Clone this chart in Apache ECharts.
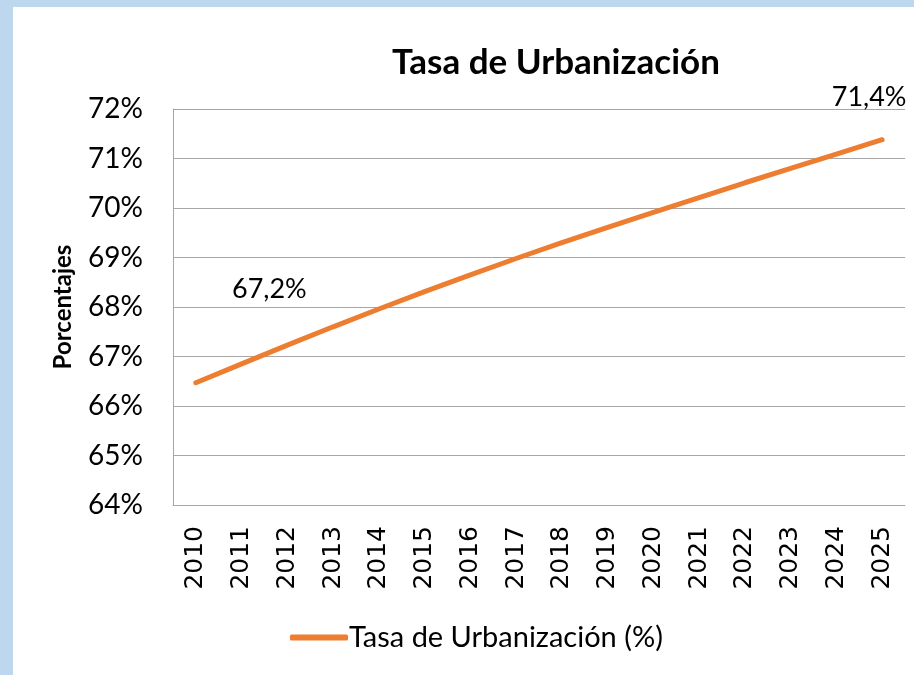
<!DOCTYPE html>
<html>
<head>
<meta charset="utf-8">
<script src="https://cdn.jsdelivr.net/npm/echarts@6/dist/echarts.min.js"></script>
<style>
  html, body { margin: 0; padding: 0; }
  #chart { width: 914px; height: 675px; }
</style>
</head>
<body>
<div id="chart"></div>
<script>
const years = ['2010', '2011', '2012', '2013', '2014', '2015', '2016', '2017',
               '2018', '2019', '2020', '2021', '2022', '2023', '2024', '2025'];
const urbanRate = [66.47, 66.85, 67.23, 67.60, 67.96, 68.31, 68.65, 68.98,
                   69.30, 69.61, 69.91, 70.21, 70.51, 70.80, 71.09, 71.38];
const yTicks = [64, 65, 66, 67, 68, 69, 70, 71, 72];
const labelledYears = ['2012', '2025'];

const chart = echarts.init(document.getElementById('chart'));

// etiquetas solo en 2012 y 2025, como en el original
const seriesData = urbanRate.map((v, i) => {
    const item = { value: v };
    if (labelledYears.includes(years[i])) {
        item.label = {
            show: true,
            offset: years[i] === '2025' ? [-13, -24] : [-18, -37]
        };
    }
    return item;
});

const option = {
    backgroundColor: '#ffffff',
    animation: false,
    graphic: [
        { type: 'rect', left: 0, top: 0, shape: { width: 13, height: 675 }, style: { fill: '#BDD7EE' } },
        { type: 'rect', left: 0, top: 0, shape: { width: 914, height: 7 }, style: { fill: '#BDD7EE' } }
    ],
    title: {
        text: 'Tasa de Urbanización',
        left: 551,
        textAlign: 'center',
        top: 40,
        textStyle: { fontFamily: 'Lato', fontWeight: 'bold', fontSize: 35, color: '#000' }
    },
    legend: {
        data: ['Tasa de Urbanización (%)'],
        left: 285,
        top: 618,
        itemWidth: 58,
        itemHeight: 6,
        itemGap: 4,
        icon: 'roundRect',
        textStyle: { fontFamily: 'Lato', fontSize: 29, color: '#000', padding: [0, 0, 0, -4] }
    },
    grid: {
        left: 173,
        right: 9,
        top: 109,
        bottom: 170
    },
    xAxis: {
        type: 'category',
        data: years,
        boundaryGap: true,
        axisLine: { show: true, lineStyle: { color: '#a6a6a6' } },
        axisTick: { show: false },
        axisLabel: {
            rotate: 90,
            margin: 21,
            fontFamily: 'DejaVu Sans',
            fontSize: 25,
            color: '#000'
        }
    },
    yAxis: {
        type: 'value',
        min: yTicks[0],
        max: yTicks[yTicks.length - 1],
        interval: 1,
        name: 'Porcentajes',
        nameLocation: 'middle',
        nameGap: 98,
        nameRotate: 90,
        nameTextStyle: { fontFamily: 'Lato', fontWeight: 'bold', fontSize: 24, color: '#000' },
        axisLine: { show: true, lineStyle: { color: '#a6a6a6' } },
        axisTick: { show: false },
        splitLine: { lineStyle: { color: '#a6a6a6', width: 1 } },
        axisLabel: {
            formatter: '{value}%',
            margin: 30,
            fontFamily: 'Lato',
            fontSize: 28,
            color: '#000'
        }
    },
    series: [{
        name: 'Tasa de Urbanización (%)',
        type: 'line',
        data: seriesData,
        symbol: 'circle',
        symbolSize: 0,
        showSymbol: true,
        color: '#ED7D31',
        lineStyle: { width: 5, color: '#ED7D31', cap: 'round' },
        label: {
            show: false,
            position: 'top',
            formatter: p => p.value.toFixed(1).replace('.', ',') + '%',
            fontFamily: 'Lato',
            fontSize: 27,
            color: '#000'
        }
    }]
};

chart.setOption(option);
</script>
</body>
</html>
